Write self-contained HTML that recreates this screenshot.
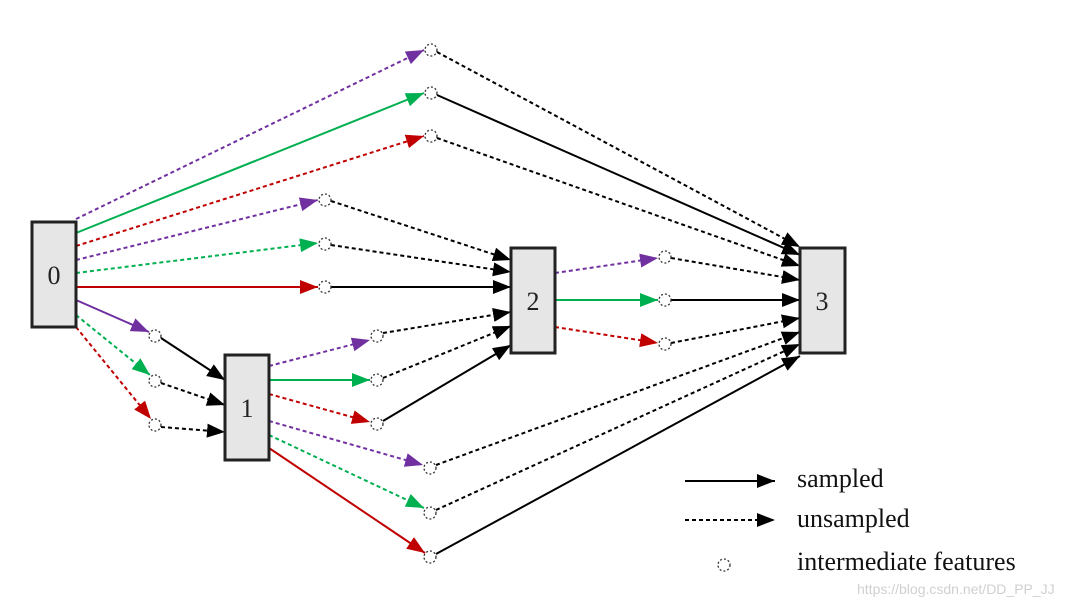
<!DOCTYPE html>
<html><head><meta charset="utf-8"><style>
html,body{margin:0;padding:0;background:#fff;}
svg{display:block;}
</style></head><body>
<svg width="1080" height="605" viewBox="0 0 1080 605" xmlns="http://www.w3.org/2000/svg">
<defs>
<marker id="k" markerUnits="userSpaceOnUse" markerWidth="20" markerHeight="16" refX="18" refY="7" orient="auto"><path d="M0,0 L18,7 L0,14 z" fill="#000"/></marker>
<marker id="p" markerUnits="userSpaceOnUse" markerWidth="20" markerHeight="16" refX="18" refY="7" orient="auto"><path d="M0,0 L18,7 L0,14 z" fill="#7030a0"/></marker>
<marker id="g" markerUnits="userSpaceOnUse" markerWidth="20" markerHeight="16" refX="18" refY="7" orient="auto"><path d="M0,0 L18,7 L0,14 z" fill="#00b050"/></marker>
<marker id="r" markerUnits="userSpaceOnUse" markerWidth="20" markerHeight="16" refX="18" refY="7" orient="auto"><path d="M0,0 L18,7 L0,14 z" fill="#c00000"/></marker>
</defs>
<g stroke-width="2" fill="none">
<!-- from 0 -->
<line x1="76" y1="219" x2="424" y2="50" stroke="#7030a0" stroke-dasharray="4,3" marker-end="url(#p)"/>
<line x1="76" y1="233" x2="424" y2="93" stroke="#00b050" marker-end="url(#g)"/>
<line x1="76" y1="246" x2="424" y2="136" stroke="#c00000" stroke-dasharray="4,3" marker-end="url(#r)"/>
<line x1="76" y1="260" x2="318" y2="200" stroke="#7030a0" stroke-dasharray="4,3" marker-end="url(#p)"/>
<line x1="76" y1="273" x2="318" y2="243" stroke="#00b050" stroke-dasharray="4,3" marker-end="url(#g)"/>
<line x1="76" y1="287" x2="318" y2="287" stroke="#c00000" marker-end="url(#r)"/>
<line x1="76" y1="300" x2="149" y2="332" stroke="#7030a0" marker-end="url(#p)"/>
<line x1="76" y1="315" x2="150" y2="375" stroke="#00b050" stroke-dasharray="4,3" marker-end="url(#g)"/>
<line x1="76" y1="327" x2="151" y2="419" stroke="#c00000" stroke-dasharray="4,3" marker-end="url(#r)"/>
<!-- circles to 1 -->
<line x1="161" y1="338" x2="225" y2="380" stroke="#000" marker-end="url(#k)"/>
<line x1="161" y1="383" x2="225" y2="405" stroke="#000" stroke-dasharray="4,3" marker-end="url(#k)"/>
<line x1="161" y1="427" x2="225" y2="432" stroke="#000" stroke-dasharray="4,3" marker-end="url(#k)"/>
<!-- from 1 -->
<line x1="269" y1="366" x2="370" y2="340" stroke="#7030a0" stroke-dasharray="4,3" marker-end="url(#p)"/>
<line x1="269" y1="380" x2="370" y2="380" stroke="#00b050" marker-end="url(#g)"/>
<line x1="269" y1="394" x2="370" y2="422" stroke="#c00000" stroke-dasharray="4,3" marker-end="url(#r)"/>
<line x1="269" y1="421" x2="423" y2="465" stroke="#7030a0" stroke-dasharray="4,3" marker-end="url(#p)"/>
<line x1="269" y1="435" x2="424" y2="508" stroke="#00b050" stroke-dasharray="4,3" marker-end="url(#g)"/>
<line x1="269" y1="448" x2="425" y2="553" stroke="#c00000" marker-end="url(#r)"/>
<!-- to 2 -->
<line x1="331" y1="201" x2="511" y2="260" stroke="#000" stroke-dasharray="4,3" marker-end="url(#k)"/>
<line x1="331" y1="245" x2="511" y2="272" stroke="#000" stroke-dasharray="4,3" marker-end="url(#k)"/>
<line x1="331" y1="287" x2="511" y2="287" stroke="#000" marker-end="url(#k)"/>
<line x1="383" y1="333" x2="511" y2="312" stroke="#000" stroke-dasharray="4,3" marker-end="url(#k)"/>
<line x1="383" y1="378" x2="511" y2="326" stroke="#000" stroke-dasharray="4,3" marker-end="url(#k)"/>
<line x1="383" y1="421" x2="511" y2="345" stroke="#000" marker-end="url(#k)"/>
<!-- from 2 -->
<line x1="555" y1="273" x2="658" y2="258" stroke="#7030a0" stroke-dasharray="4,3" marker-end="url(#p)"/>
<line x1="555" y1="300" x2="658" y2="300" stroke="#00b050" marker-end="url(#g)"/>
<line x1="555" y1="327" x2="658" y2="343" stroke="#c00000" stroke-dasharray="4,3" marker-end="url(#r)"/>
<!-- to 3 -->
<line x1="437" y1="52" x2="800" y2="247" stroke="#000" stroke-dasharray="4,3" marker-end="url(#k)"/>
<line x1="437" y1="95" x2="800" y2="255" stroke="#000" marker-end="url(#k)"/>
<line x1="437" y1="138" x2="800" y2="266" stroke="#000" stroke-dasharray="4,3" marker-end="url(#k)"/>
<line x1="671" y1="258" x2="800" y2="280" stroke="#000" stroke-dasharray="4,3" marker-end="url(#k)"/>
<line x1="671" y1="300" x2="800" y2="300" stroke="#000" marker-end="url(#k)"/>
<line x1="671" y1="343" x2="800" y2="318" stroke="#000" stroke-dasharray="4,3" marker-end="url(#k)"/>
<line x1="436" y1="465" x2="800" y2="332" stroke="#000" stroke-dasharray="4,3" marker-end="url(#k)"/>
<line x1="436" y1="510" x2="800" y2="344" stroke="#000" stroke-dasharray="4,3" marker-end="url(#k)"/>
<line x1="436" y1="554" x2="800" y2="356" stroke="#000" marker-end="url(#k)"/>
<!-- legend -->
<line x1="685" y1="481" x2="775" y2="481" stroke="#000" marker-end="url(#k)"/>
<line x1="685" y1="520" x2="775" y2="520" stroke="#000" stroke-dasharray="4,3" marker-end="url(#k)"/>
</g>
<g fill="#fff" stroke="#333" stroke-width="1.3" stroke-dasharray="2,2">
<circle cx="431" cy="50" r="6"/><circle cx="431" cy="93" r="6"/><circle cx="431" cy="136" r="6"/>
<circle cx="325" cy="200" r="6"/><circle cx="325" cy="244" r="6"/><circle cx="325" cy="287" r="6"/>
<circle cx="155" cy="336" r="6"/><circle cx="155" cy="381" r="6"/><circle cx="155" cy="425" r="6"/>
<circle cx="377" cy="336" r="6"/><circle cx="377" cy="380" r="6"/><circle cx="377" cy="424" r="6"/>
<circle cx="430" cy="468" r="6"/><circle cx="430" cy="513" r="6"/><circle cx="430" cy="557" r="6"/>
<circle cx="665" cy="257" r="6"/><circle cx="665" cy="300" r="6"/><circle cx="665" cy="344" r="6"/>
<circle cx="724" cy="565" r="6"/>
</g>
<g fill="#e6e6e6" stroke="#222" stroke-width="3">
<rect x="32" y="222" width="44" height="105"/>
<rect x="225" y="355" width="44" height="105"/>
<rect x="511" y="248" width="44" height="105"/>
<rect x="800" y="248" width="45" height="105"/>
</g>
<g font-family="Liberation Serif, serif" font-size="26" fill="#222" text-anchor="middle">
<text x="54" y="284">0</text>
<text x="247" y="417">1</text>
<text x="533" y="310">2</text>
<text x="822" y="310">3</text>
</g>
<g font-family="Liberation Serif, serif" font-size="26" fill="#111">
<text x="797" y="487">sampled</text>
<text x="797" y="527">unsampled</text>
<text x="797" y="570">intermediate features</text>
</g>
<text x="857" y="594" font-family="Liberation Sans, sans-serif" font-size="14" fill="#d0d0d0">https://blog.csdn.net/DD_PP_JJ</text>
</svg>
</body></html>
